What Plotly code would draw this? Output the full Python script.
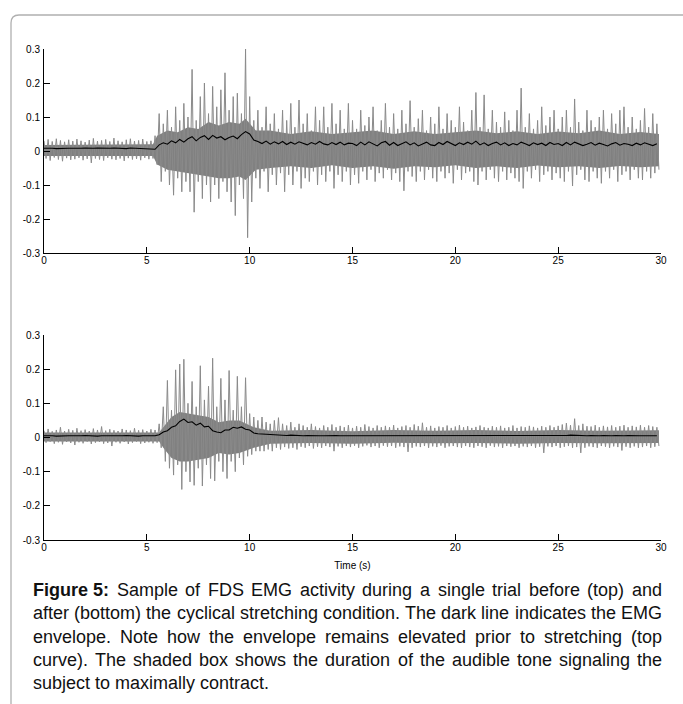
import plotly.graph_objects as go

# ---------------- data ----------------
# time bins of 0.2 s; each bin holds the positive and negative peak of the raw EMG
time_s = [round(i * 0.2, 1) for i in range(150)]

top_up = [0.030,0.034,0.028,0.036,0.031,0.027,0.033,0.029,0.035,0.030,0.026,0.032,0.037,0.029,0.031,0.034,0.028,0.038,0.030,0.027,0.033,0.036,0.029,0.031,0.035,0.028,0.030,
          0.045,0.11,0.08,0.12,0.07,0.13,0.09,0.14,0.10,0.24,0.09,0.16,0.20,0.11,0.19,0.13,0.18,0.23,0.12,0.16,0.17,0.11,0.30,
          0.16,0.09,0.12,0.07,0.13,0.08,0.11,0.065,0.12,0.09,0.14,0.07,0.15,0.08,0.11,0.06,0.13,0.09,0.13,0.07,0.14,0.08,0.12,0.065,0.14,
          0.09,0.065,0.12,0.075,0.10,0.13,0.06,0.09,0.14,0.07,
          0.11,0.065,0.12,0.08,0.148,0.07,0.095,0.12,0.06,0.10,
          0.08,0.13,0.065,0.11,0.09,0.07,0.13,0.085,0.06,0.12,
          0.172,0.07,0.165,0.065,0.12,0.085,0.07,0.115,0.09,0.06,
          0.12,0.185,0.07,0.11,0.065,0.09,0.13,0.075,0.10,0.12,
          0.065,0.10,0.12,0.07,0.153,0.085,0.06,0.12,0.09,0.07,
          0.10,0.12,0.065,0.11,0.08,0.12,0.13,0.07,0.10,0.065,
          0.09,0.125,0.07,0.11,0.08]
top_down = [-0.022,-0.028,-0.019,-0.025,-0.030,-0.021,-0.026,-0.024,-0.020,-0.027,-0.023,-0.035,-0.022,-0.025,-0.028,-0.020,-0.024,-0.026,-0.022,-0.029,-0.021,-0.025,-0.023,-0.027,-0.020,-0.024,-0.022,
            -0.04,-0.09,-0.06,-0.10,-0.13,-0.08,-0.12,-0.09,-0.12,-0.18,-0.09,-0.14,-0.10,-0.15,-0.10,-0.14,-0.09,-0.12,-0.15,-0.19,-0.10,-0.14,-0.255,
            -0.15,-0.08,-0.11,-0.06,-0.12,-0.07,-0.10,-0.065,-0.12,-0.07,-0.10,-0.06,-0.11,-0.08,-0.09,-0.06,-0.10,-0.07,-0.09,-0.06,-0.11,-0.07,-0.09,-0.06,-0.10,
            -0.07,-0.095,-0.06,-0.085,-0.055,-0.09,-0.065,-0.08,-0.055,-0.085,
            -0.065,-0.09,-0.117,-0.06,-0.075,-0.09,-0.06,-0.085,-0.055,-0.08,
            -0.09,-0.06,-0.08,-0.065,-0.095,-0.055,-0.085,-0.065,-0.06,-0.09,
            -0.10,-0.06,-0.085,-0.055,-0.08,-0.09,-0.06,-0.085,-0.065,-0.08,
            -0.09,-0.11,-0.06,-0.08,-0.055,-0.09,-0.07,-0.06,-0.085,-0.065,
            -0.08,-0.09,-0.06,-0.103,-0.07,-0.055,-0.085,-0.09,-0.06,-0.08,
            -0.095,-0.06,-0.08,-0.055,-0.09,-0.07,-0.06,-0.085,-0.055,-0.08,
            -0.085,-0.06,-0.08,-0.065,-0.055]
top_env = [0.008,0.009,0.008,0.007,0.008,0.009,0.008,0.008,0.007,0.008,0.009,0.008,0.008,0.009,0.008,0.007,0.008,0.009,0.008,0.008,0.007,0.009,0.008,0.008,0.007,0.006,0.004,
           0.005,0.018,0.024,0.020,0.030,0.024,0.034,0.026,0.036,0.042,0.030,0.040,0.045,0.034,0.046,0.038,0.042,0.033,0.040,0.044,0.036,0.048,0.057,
           0.050,0.032,0.028,0.022,0.029,0.020,0.027,0.021,0.028,0.019,0.026,0.020,0.027,0.022,0.018,0.025,0.020,0.028,0.021,0.018,0.025,0.019,0.026,0.018,0.023,
           0.022,0.016,0.026,0.018,0.027,0.020,0.015,0.024,0.028,0.017,
           0.025,0.016,0.022,0.027,0.018,0.024,0.015,0.021,0.026,0.018,
           0.016,0.025,0.019,0.028,0.021,0.016,0.024,0.019,0.026,0.020,
           0.029,0.018,0.024,0.016,0.022,0.026,0.018,0.024,0.016,0.022,
           0.018,0.026,0.021,0.016,0.024,0.019,0.023,0.016,0.025,0.019,
           0.022,0.016,0.025,0.018,0.026,0.021,0.016,0.020,0.025,0.017,
           0.023,0.019,0.015,0.021,0.025,0.017,0.022,0.020,0.016,0.023,
           0.018,0.024,0.020,0.016,0.021]

bot_up = [0.020,0.025,0.018,0.022,0.030,0.019,0.024,0.021,0.027,0.020,0.023,0.019,0.026,0.022,0.032,0.020,0.024,0.021,0.019,0.025,0.022,0.020,0.027,0.021,0.023,0.019,0.024,0.022,
          0.040,0.09,0.167,0.08,0.198,0.215,0.229,0.10,0.164,0.09,0.21,0.11,0.15,0.232,0.09,0.173,0.11,0.196,0.08,0.179,0.09,0.175,0.07,0.06,0.05,
          0.06,0.045,0.04,0.05,0.058,0.04,0.035,0.045,0.03,0.04,
          0.035,0.03,0.04,0.032,0.028,0.035,0.03,0.038,0.03,0.034,
          0.03,0.036,0.028,0.033,0.03,0.038,0.032,0.028,0.035,0.03,
          0.034,0.03,0.036,0.028,0.032,0.035,0.03,0.038,0.033,0.043,
          0.03,0.034,0.028,0.032,0.03,0.035,0.028,0.032,0.036,0.03,
          0.033,0.028,0.031,0.035,0.03,0.028,0.033,0.03,0.034,0.028,
          0.03,0.035,0.028,0.032,0.03,0.034,0.031,0.028,0.033,0.03,
          0.035,0.03,0.034,0.038,0.042,0.036,0.055,0.035,0.04,0.033,
          0.032,0.036,0.03,0.034,0.031,0.035,0.03,0.033,0.036,0.03,
          0.034,0.031,0.036,0.03,0.035,0.032,0.03]
bot_down = [-0.015,-0.012,-0.018,-0.014,-0.020,-0.013,-0.016,-0.022,-0.014,-0.017,-0.012,-0.019,-0.015,-0.013,-0.018,-0.016,-0.025,-0.014,-0.017,-0.013,-0.019,-0.015,-0.012,-0.018,-0.016,-0.014,-0.017,-0.015,
            -0.03,-0.07,-0.09,-0.11,-0.08,-0.152,-0.10,-0.13,-0.14,-0.09,-0.142,-0.08,-0.12,-0.127,-0.07,-0.10,-0.12,-0.07,-0.10,-0.06,-0.08,-0.055,-0.05,-0.04,-0.04,
            -0.04,-0.035,-0.04,-0.03,-0.035,-0.028,-0.032,-0.03,-0.035,-0.027,
            -0.03,-0.025,-0.032,-0.027,-0.03,-0.025,-0.028,-0.04,-0.026,-0.03,
            -0.025,-0.028,-0.024,-0.03,-0.026,-0.023,-0.028,-0.025,-0.03,-0.024,
            -0.027,-0.025,-0.03,-0.026,-0.028,-0.042,-0.03,-0.026,-0.028,-0.025,
            -0.03,-0.026,-0.028,-0.024,-0.03,-0.026,-0.025,-0.028,-0.03,-0.025,
            -0.028,-0.03,-0.025,-0.027,-0.03,-0.024,-0.028,-0.026,-0.03,-0.025,
            -0.027,-0.025,-0.03,-0.026,-0.028,-0.025,-0.03,-0.027,-0.045,-0.026,
            -0.028,-0.025,-0.03,-0.027,-0.025,-0.03,-0.028,-0.045,-0.03,-0.026,
            -0.028,-0.03,-0.025,-0.027,-0.03,-0.026,-0.028,-0.038,-0.027,-0.03,
            -0.026,-0.03,-0.028,-0.025,-0.03,-0.027,-0.025]
bot_env = [0.005,0.006,0.005,0.004,0.005,0.006,0.005,0.005,0.004,0.005,0.006,0.005,0.005,0.004,0.005,0.006,0.005,0.005,0.004,0.005,0.006,0.005,0.005,0.004,0.005,0.005,0.006,0.005,
           0.008,0.016,0.020,0.030,0.034,0.047,0.054,0.044,0.046,0.036,0.042,0.031,0.033,0.020,0.016,0.014,0.022,0.022,0.030,0.027,0.031,0.024,0.022,0.013,0.011,
           0.010,0.009,0.008,0.008,0.007,0.007,0.006,0.007,0.006,0.006,
           0.005,0.006,0.005,0.006,0.005,0.005,0.006,0.005,0.006,0.005,
           0.005,0.006,0.005,0.005,0.006,0.005,0.004,0.005,0.006,0.005,
           0.005,0.006,0.005,0.005,0.004,0.006,0.005,0.005,0.006,0.005,
           0.005,0.004,0.005,0.006,0.005,0.005,0.006,0.005,0.004,0.005,
           0.006,0.005,0.005,0.004,0.005,0.006,0.005,0.005,0.006,0.005,
           0.005,0.006,0.005,0.005,0.004,0.005,0.006,0.005,0.005,0.006,
           0.005,0.005,0.006,0.005,0.006,0.007,0.006,0.005,0.006,0.005,
           0.006,0.005,0.005,0.006,0.005,0.005,0.006,0.005,0.005,0.006,
           0.005,0.006,0.005,0.005,0.006,0.005,0.005]

# dense core of the raw signal (knots)
top_core_t = [0, 5.3, 5.5, 6.0, 6.5, 7.0, 7.5, 8.0, 8.5, 9.0, 9.5, 9.8, 10.3, 11, 12, 13, 14, 15, 16, 17,
              18, 19, 20, 21, 22, 23, 24, 25, 26, 27, 28, 29, 29.9]
top_core_up = [0.018, 0.02, 0.045, 0.06, 0.055, 0.07, 0.065, 0.085, 0.075, 0.085, 0.08, 0.095, 0.06, 0.06, 0.05,
               0.058, 0.05, 0.055, 0.06, 0.05, 0.058, 0.05, 0.056, 0.06, 0.052, 0.058, 0.05, 0.057, 0.052, 0.06,
               0.05, 0.056, 0.05]
top_core_dn = [-0.015, -0.015, -0.04, -0.055, -0.06, -0.065, -0.07, -0.075, -0.08, -0.08, -0.075, -0.085, -0.055,
               -0.05, -0.045, -0.05, -0.042, -0.05, -0.045, -0.052, -0.045, -0.048, -0.042, -0.05, -0.045, -0.05,
               -0.043, -0.048, -0.045, -0.05, -0.044, -0.048, -0.045]
bot_core_t = [0, 5.6, 5.8, 6.2, 6.6, 7.0, 7.5, 8.0, 8.5, 9.0, 9.5, 10.2, 11, 13, 15, 17, 19, 21, 23, 25, 27, 29.9]
bot_core_up = [0.015, 0.015, 0.03, 0.06, 0.075, 0.07, 0.065, 0.06, 0.045, 0.05, 0.05, 0.03, 0.02, 0.022, 0.018,
               0.022, 0.02, 0.022, 0.019, 0.022, 0.02, 0.021]
bot_core_dn = [-0.012, -0.012, -0.03, -0.06, -0.07, -0.07, -0.065, -0.06, -0.045, -0.05, -0.045, -0.03, -0.018,
               -0.016, -0.018, -0.015, -0.017, -0.016, -0.018, -0.016, -0.017, -0.016]

x_ticks = [0, 5, 10, 15, 20, 25, 30]
y_ticks = [-0.3, -0.2, -0.1, 0, 0.1, 0.2, 0.3]
y_tick_text = ["-0.3", "-0.2", "-0.1", "0", "0.1", "0.2", "0.3"]

caption_bold = "Figure 5:"
caption_lines = [
    "Sample of FDS EMG activity during a single trial before (top) and",
    "after (bottom) the cyclical stretching condition. The dark line indicates the EMG",
    "envelope. Note how the envelope remains elevated prior to stretching (top",
    "curve). The shaded box shows the duration of the audible tone signaling the",
    "subject to maximally contract.",
]

for arr in (top_up, top_down, top_env, bot_up, bot_down, bot_env):
    assert len(arr) == len(time_s), len(arr)
assert len(top_core_t) == len(top_core_up) == len(top_core_dn)
assert len(bot_core_t) == len(bot_core_up) == len(bot_core_dn)

# ---------------- figure ----------------
W, H = 683, 704
GRAY = "#808080"
SPIKE = "#8a8a8a"
fig = go.Figure()


def add_panel(xa, ya, core_t, core_up, core_dn, up, down, env):
    fig.add_trace(go.Scatter(
        x=core_t + core_t[::-1], y=core_up + core_dn[::-1], fill="toself",
        fillcolor=GRAY, line=dict(width=0), mode="lines",
        xaxis=xa, yaxis=ya, hoverinfo="skip", showlegend=False))
    zx, zy = [], []
    for t, u, d in zip(time_s, up, down):
        zx += [t, t + 0.1]
        zy += [u, d]
    fig.add_trace(go.Scatter(x=zx, y=zy, mode="lines", line=dict(color=SPIKE, width=1),
                             xaxis=xa, yaxis=ya, showlegend=False))
    fig.add_trace(go.Scatter(x=time_s, y=env, mode="lines", line=dict(color="black", width=1.1),
                             xaxis=xa, yaxis=ya, showlegend=False))


add_panel("x", "y", top_core_t, top_core_up, top_core_dn, top_up, top_down, top_env)
add_panel("x2", "y2", bot_core_t, bot_core_up, bot_core_dn, bot_up, bot_down, bot_env)

tick_font = dict(family="Liberation Sans Narrow, Arial Narrow, Liberation Sans, Arial", size=10, color="black")
xdom = [44 / W, 661 / W]
ax_common = dict(showline=True, linecolor="black", linewidth=1, ticks="inside", ticklen=6,
                 tickcolor="black", showgrid=False, zeroline=False, tickfont=tick_font, mirror=False)

fig.update_layout(
    width=W, height=H, margin=dict(l=0, r=0, t=0, b=0, autoexpand=False),
    paper_bgcolor="white", plot_bgcolor="white", showlegend=False,
    xaxis=dict(domain=xdom, range=[0, 30], tickvals=x_ticks, anchor="y", ticklabelstandoff=-2, **ax_common),
    yaxis=dict(domain=[1 - 253 / H, 1 - 49 / H], range=[-0.3, 0.3], tickvals=y_ticks,
               ticktext=y_tick_text, anchor="x", ticklabelstandoff=1, **ax_common),
    xaxis2=dict(domain=xdom, range=[0, 30], tickvals=x_ticks, anchor="y2", ticklabelstandoff=-2,
                title=dict(text="Time (s)", font=dict(family=tick_font["family"], size=10, color="black"),
                           standoff=9), **ax_common),
    yaxis2=dict(domain=[1 - 540 / H, 1 - 335 / H], range=[-0.3, 0.3], tickvals=y_ticks,
                ticktext=y_tick_text, anchor="x2", ticklabelstandoff=1, **ax_common),
)

# page frame with rounded top-left corner
x11, x19 = 11 / W, 19 / W
y15, y23 = 1 - 15 / H, 1 - 23 / H
fig.add_shape(type="path", xref="paper", yref="paper",
              path=f"M 1,{y15} L {x19},{y15} Q {x11},{y15} {x11},{y23} L {x11},0",
              line=dict(color="#b0b0b0", width=1.3))

# ---- justified caption (Arial / Liberation Sans advance widths, per 1000 em) ----
REG = dict(zip("abcdefghijklmnopqrstuvwxyz",
               [556, 556, 500, 556, 556, 278, 556, 556, 222, 222, 500, 222, 833, 556, 556, 556, 556, 333, 500,
                278, 556, 500, 722, 500, 500, 500]))
REG.update(dict(zip("ABCDEFGHIJKLMNOPQRSTUVWXYZ",
                    [667, 667, 722, 722, 667, 611, 778, 722, 278, 500, 667, 556, 833, 722, 778, 667, 778, 722,
                     667, 611, 722, 667, 944, 667, 667, 611])))
REG.update({" ": 278, ".": 278, ":": 278, "(": 333, ")": 333, ",": 278, "-": 333})
REG.update({d: 556 for d in "0123456789"})
BOLD_W = {"F": 611, "i": 278, "g": 611, "u": 611, "r": 389, "e": 556, " ": 278, "5": 556, ":": 333}
FS = 18
LEFT, RIGHT = 33, 662
line_y = [590, 613, 636.5, 659.5, 682.5]
cap_font = dict(family="Liberation Sans, Arial", size=FS, color="#111111")


def wlen(word, table):
    return sum(table.get(c, 556) for c in word) * FS / 1000.0


for li, (txt, py) in enumerate(zip(caption_lines, line_y)):
    words = txt.split(" ")
    items = [(w, wlen(w, REG)) for w in words]
    if li == 0:
        items = [("<b>" + caption_bold + "</b>", wlen(caption_bold, BOLD_W))] + items
    if li < len(caption_lines) - 1:
        gap = (RIGHT - LEFT - sum(w for _, w in items)) / (len(items) - 1)
    else:
        gap = REG[" "] * FS / 1000.0
    x = LEFT
    for word, wl in items:
        fig.add_annotation(text=word, xref="paper", yref="paper", x=x / W, y=1 - py / H,
                           xanchor="left", yanchor="middle", showarrow=False, borderpad=0, borderwidth=0,
                           font=cap_font)
        x += wl + gap

fig.write_html("out.html", config={"displayModeBar": False},
               post_script="document.body.style.margin='0';")
